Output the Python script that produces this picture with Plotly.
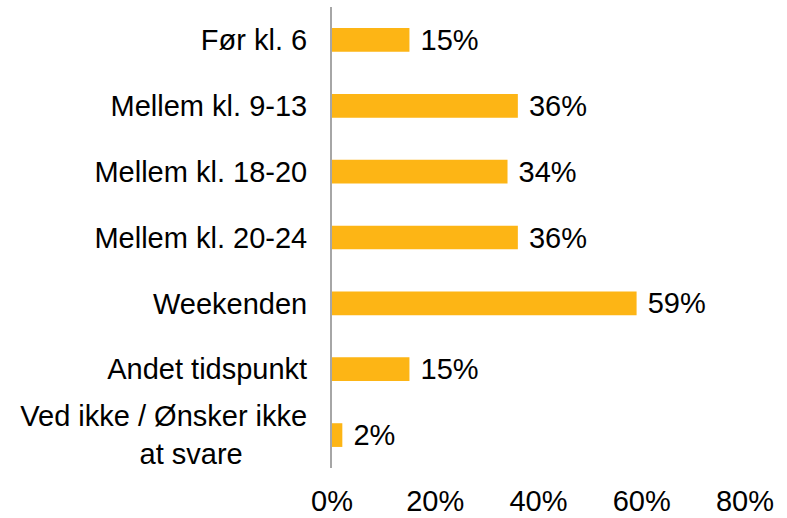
import plotly.graph_objects as go

categories = ["Før kl. 6", "Mellem kl. 9-13", "Mellem kl. 18-20", "Mellem kl. 20-24",
              "Weekenden", "Andet tidspunkt",
              "Ved ikke / Ønsker ikke<br>at svare" + "\u00a0" * 8]
values = [15, 36, 34, 36, 59, 15, 2]
tick_vals = [0, 20, 40, 60, 80]
tick_text = ["0%", "20%", "40%", "60%", "80%"]

FONT = "Liberation Sans, Arial, sans-serif"

fig = go.Figure(go.Bar(
    x=values, y=categories, orientation="h",
    marker=dict(color="#FDB515", line=dict(width=0)),
    width=0.36,
    text=["\u00a0" + f"{v}%" for v in values],
    textposition="outside", cliponaxis=False, constraintext="none",
    textfont=dict(size=29, color="#000000", family=FONT),
))

fig.update_layout(
    width=787, height=518,
    margin=dict(l=332, r=42, t=7, b=50, autoexpand=False),
    paper_bgcolor="white", plot_bgcolor="white",
    font=dict(family=FONT, size=29, color="#000000"),
    showlegend=False,
    uniformtext=dict(mode=False),
    xaxis=dict(range=[0, 80], tickvals=tick_vals, ticktext=tick_text,
               showgrid=False, zeroline=False, showline=False, ticks="",
               ticklabelstandoff=13, automargin=False,
               tickfont=dict(size=29), fixedrange=True),
    yaxis=dict(autorange="reversed", showgrid=False, zeroline=False,
               showline=True, linecolor="#A6A6A6", linewidth=2, ticks="",
               ticklabelstandoff=17, automargin=False, tickfont=dict(size=29)),
)

fig.write_html("out.html", config={"displayModeBar": False},
               post_script="document.body.style.margin='0';document.body.style.overflow='hidden';")
